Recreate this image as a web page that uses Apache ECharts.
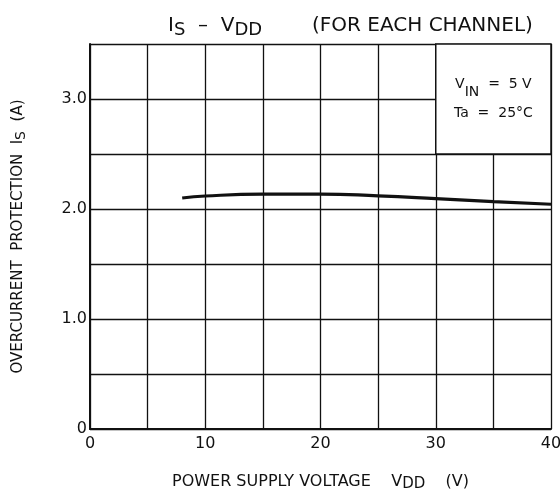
<!DOCTYPE html>
<html>
<head>
<meta charset="utf-8">
<script src="https://cdn.jsdelivr.net/npm/echarts@6/dist/echarts.min.js"></script>
<style>
  html, body { margin: 0; padding: 0; background: #fff; }
  #chart { width: 560px; height: 491px; }
</style>
</head>
<body>
<div id="chart"></div>
<script>
// supply voltage VDD (V) and overcurrent protection IS (A)
const vdd = [8, 10, 15, 20, 25, 30, 35, 40];
const isAmps = [2.10, 2.118, 2.135, 2.136, 2.12, 2.095, 2.067, 2.043];
const yTickLabels = { 0: '0', 1: '1.0', 2: '2.0', 3: '3.0' };
const xTickLabels = { 0: '0', 10: '10', 20: '20', 30: '30', 40: '40' };
// condition box spans 30..40 V, 2.5..3.5 A
const boxRange = [[30, 3.5], [40, 2.5]];

const font = '"DejaVu Sans", "Open Sans", sans-serif';
const ink = '#111';

const subStyle = { fontSize: 15, fontFamily: font, color: ink, verticalAlign: 'bottom', lineHeight: 8 };
const titleStyle = {
  fontSize: 20,
  fontWeight: 'normal',
  fontFamily: font,
  color: ink,
  lineHeight: 26,
  rich: { sub: Object.assign({}, subStyle, { fontSize: 18 }) }
};

const chart = echarts.init(document.getElementById('chart'));

chart.setOption({
  animation: false,
  backgroundColor: '#fff',
  title: [
    { text: 'I{sub|S}  –  V{sub|DD}', left: 163, top: 8, textStyle: titleStyle },
    { text: '(FOR EACH CHANNEL)', left: 307, top: 8, textStyle: titleStyle }
  ],
  grid: { left: 90, right: 9, top: 44, bottom: 62, outerBoundsMode: 'none', containLabel: false },
  xAxis: {
    type: 'value',
    min: 0,
    max: 40,
    interval: 5,
    name: 'POWER SUPPLY VOLTAGE    V{sub|DD}    (V)',
    nameLocation: 'middle',
    nameGap: 43,
    nameTextStyle: {
      fontSize: 16,
      fontFamily: font,
      color: ink,
      lineHeight: 20,
      rich: { sub: subStyle }
    },
    axisLine: { lineStyle: { color: ink, width: 2 } },
    axisTick: { show: false },
    axisLabel: {
      fontSize: 16,
      fontFamily: font,
      color: ink,
      margin: 7,
      formatter: (v) => xTickLabels[v] || ''
    },
    splitLine: { show: true, lineStyle: { color: ink, width: 1.3 } }
  },
  yAxis: {
    type: 'value',
    min: 0,
    max: 3.5,
    interval: 0.5,
    name: 'OVERCURRENT  PROTECTION  I{sub|S}  (A)',
    nameLocation: 'middle',
    nameGap: 62,
    nameTextStyle: {
      fontSize: 15,
      fontFamily: font,
      color: ink,
      lineHeight: 20,
      rich: { sub: Object.assign({}, subStyle, { fontSize: 14 }) }
    },
    axisLine: { show: true, lineStyle: { color: ink, width: 2 } },
    axisTick: { show: false },
    axisLabel: {
      fontSize: 16,
      fontFamily: font,
      color: ink,
      margin: 3,
      formatter: (v) => yTickLabels[v] || ''
    },
    splitLine: { show: true, lineStyle: { color: ink, width: 1.3 } }
  },
  series: [{
    type: 'line',
    data: vdd.map((v, i) => [v, isAmps[i]]),
    smooth: true,
    showSymbol: false,
    lineStyle: { color: ink, width: 3.2 },
    markArea: {
      silent: true,
      itemStyle: { color: '#fff', borderColor: ink, borderWidth: 1.5 },
      label: {
        position: 'inside',
        fontSize: 14,
        fontFamily: font,
        color: ink,
        lineHeight: 29,
        formatter: 'V{sub|IN}  =  5 V\nTa  =  25°C',
        rich: { sub: Object.assign({}, subStyle, { fontSize: 14 }) }
      },
      data: [[{ coord: boxRange[0] }, { coord: boxRange[1] }]]
    }
  }]
});
</script>
</body>
</html>
